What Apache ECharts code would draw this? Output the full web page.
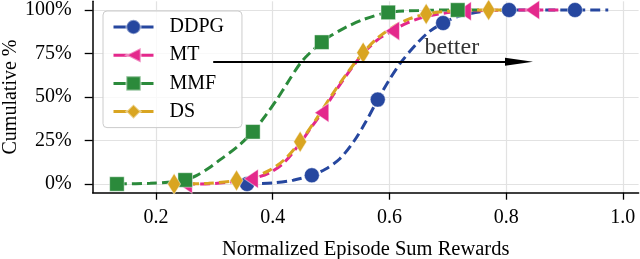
<!DOCTYPE html>
<html>
<head>
<meta charset="utf-8">
<script src="https://cdn.jsdelivr.net/npm/echarts@6/dist/echarts.min.js"></script>
<style>
  html, body { margin: 0; padding: 0; background: #fff; }
  #chart { width: 640px; height: 259px; }
</style>
</head>
<body>
<div id="chart"></div>
<script>
// ---------- data ----------
const seriesNames = ['DDPG', 'MT', 'MMF', 'DS'];

// marker points [x, cumulative %]
const ddpgMarks = [[0.356, 0], [0.467, 5], [0.580, 48.5], [0.692, 92.5], [0.805, 100], [0.918, 100]];
const mtMarks   = [[0.250, 0], [0.363, 3], [0.484, 41], [0.605, 88], [0.728, 99.3], [0.845, 100]];
const mmfMarks  = [[0.133, 0], [0.250, 2.3], [0.366, 30], [0.484, 81.5], [0.598, 98.6], [0.717, 100]];
const dsMarks   = [[0.231, 0], [0.338, 2], [0.447, 24.3], [0.555, 75.5], [0.663, 97.7], [0.770, 100]];

// additional points (between markers)
const ddpgCurve = [[0.40, 0.6], [0.435, 2.2], [0.49, 8.5], [0.515, 14.5], [0.54, 25], [0.56, 36], [0.60, 60], [0.62, 70], [0.645, 80], [0.668, 87.5], [0.72, 96.5], [0.76, 99.2], [0.975, 100]];
const mtCurve   = [[0.30, 0.3], [0.395, 6.5], [0.42, 12.5], [0.447, 23.5], [0.465, 32], [0.51, 54.5], [0.535, 66.5], [0.555, 75], [0.58, 83], [0.63, 92.5], [0.66, 96], [0.70, 98.5], [0.78, 99.8], [0.895, 100]];
const mmfCurve  = [[0.19, 0.4], [0.22, 1.0], [0.27, 5], [0.29, 9], [0.31, 14], [0.338, 21], [0.388, 39.5], [0.407, 48.5], [0.425, 58], [0.45, 70.5], [0.50, 85.3], [0.525, 90], [0.555, 94.5], [0.65, 99.7], [0.76, 100]];
const dsCurve   = [[0.29, 0.4], [0.37, 4.5], [0.395, 8], [0.42, 14], [0.47, 35], [0.50, 50.5], [0.527, 63.5], [0.58, 84], [0.61, 91], [0.635, 95], [0.70, 99.3], [0.80, 100]];

// axis ticks
const xTicks = [0.2, 0.4, 0.6, 0.8, 1.0];
const yTicks = [0, 25, 50, 75, 100];

// annotation ("better" arrow) in data coordinates
const arrowFrom = [0.298, 70.3];
const arrowTo = [0.822, 70.3];
const betterText = 'better';
const betterPos = [0.707, 78.5];

// ---------- chart ----------
const FONT = "'Liberation Serif', 'Times New Roman', serif";
const colors = ['#26479f', '#e4288c', '#2b8a3b', '#d9a521'];

function build(marks, curve) {
  const all = marks.map(p => ({ p, m: true })).concat(curve.map(p => ({ p, m: false })));
  all.sort((a, b) => a.p[0] - b.p[0]);
  return all.map(o => o.m ? { value: o.p } : { value: o.p, symbol: 'none' });
}

const symbolDefs = [
  { symbol: 'circle', symbolSize: 15, symbolRotate: 0 },
  { symbol: 'triangle', symbolSize: [19, 14], symbolRotate: 90 },
  { symbol: 'rect', symbolSize: 14.5, symbolRotate: 0 },
  { symbol: 'diamond', symbolSize: [13, 21], symbolRotate: 0 }
];
const datasets = [build(ddpgMarks, ddpgCurve), build(mtMarks, mtCurve), build(mmfMarks, mmfCurve), build(dsMarks, dsCurve)];

const series = [{
  type: 'scatter',
  name: '_annot',
  data: [betterPos],
  symbolSize: 0,
  silent: true,
  label: { show: true, formatter: betterText, position: 'inside', color: '#000', fontFamily: FONT, fontSize: 24 },
  markLine: {
    silent: true,
    symbol: ['none', 'triangle'],
    symbolSize: [8, 28],
    label: { show: false },
    lineStyle: { color: '#000', width: 2, type: 'solid' },
    emphasis: { disabled: true },
    data: [[{ coord: arrowFrom }, { coord: arrowTo }]]
  }
}];
seriesNames.forEach((n, i) => {
  series.push({
    type: 'line',
    name: n,
    data: datasets[i],
    smooth: 0.3,
    symbol: symbolDefs[i].symbol,
    symbolSize: symbolDefs[i].symbolSize,
    symbolRotate: symbolDefs[i].symbolRotate,
    color: colors[i],
    lineStyle: { color: colors[i], width: 3, type: [10, 5] },
    itemStyle: { color: colors[i], borderColor: 'rgba(255,255,255,0.45)', borderWidth: 1 },
    emphasis: { disabled: true }
  });
});

const chart = echarts.init(document.getElementById('chart'), null, { renderer: 'canvas' });
chart.setOption({
  animation: false,
  backgroundColor: '#fff',
  grid: { left: 92.7, right: 1.4, top: 1.3, bottom: 66.3, outerBoundsMode: 'none' },
  legend: {
    data: seriesNames,
    orient: 'vertical',
    left: 103, top: 11,
    padding: [6, 18, 6, 9],
    itemWidth: 40, itemHeight: 18, itemGap: 8.2,
    backgroundColor: 'rgba(255,255,255,0.8)',
    borderColor: '#cccccc', borderWidth: 1, borderRadius: 4,
    lineStyle: { type: 'solid', width: 3 },
    textStyle: { fontFamily: FONT, fontSize: 20, lineHeight: 20, color: '#000', padding: [0, 0, 0, 11] }
  },
  xAxis: {
    type: 'value',
    min: 0.0915, max: 1.027,
    name: 'Normalized Episode Sum Rewards',
    nameLocation: 'middle', nameGap: 46, nameMoveOverlap: false,
    nameTextStyle: { fontFamily: FONT, fontSize: 20.5, color: '#000' },
    axisLine: { show: true, onZero: false, lineStyle: { color: '#000', width: 1.5 } },
    axisTick: { show: true, length: 7, customValues: xTicks, lineStyle: { color: '#000', width: 1.3 } },
    axisLabel: { customValues: xTicks, margin: 15, fontFamily: FONT, fontSize: 20, color: '#000', formatter: v => v.toFixed(1) },
    splitLine: { show: true, lineStyle: { color: '#e2e2e2', width: 1.2 } }
  },
  yAxis: {
    type: 'value',
    min: -5, max: 105,
    name: 'Cumulative %',
    nameLocation: 'middle', nameGap: 72, nameMoveOverlap: false,
    nameTextStyle: { fontFamily: FONT, fontSize: 20, color: '#000' },
    axisLine: { show: true, onZero: false, lineStyle: { color: '#000', width: 1.5 } },
    axisTick: { show: true, length: 8, customValues: yTicks, lineStyle: { color: '#000', width: 1.3 } },
    axisLabel: { customValues: yTicks, margin: 21, fontFamily: FONT, fontSize: 20, color: '#000', formatter: v => v + '%' },
    splitLine: { show: true, lineStyle: { color: '#e2e2e2', width: 1.2 } }
  },
  series: series
});
</script>
</body>
</html>
